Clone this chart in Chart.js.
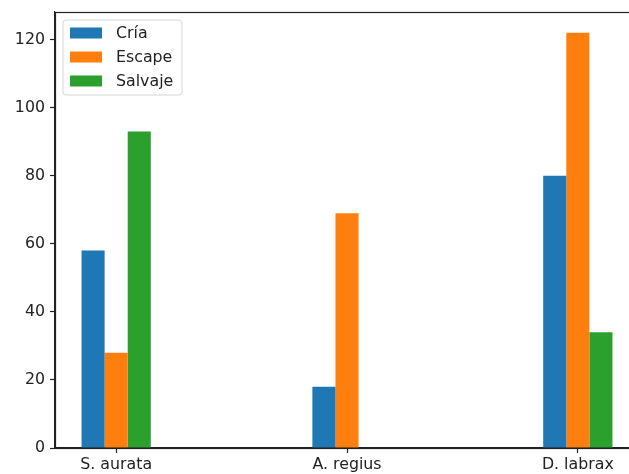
<!DOCTYPE html>
<html>
<head>
<meta charset="utf-8">
<script src="https://cdn.jsdelivr.net/npm/chart.js@4"></script>
<style>
html, body { margin: 0; padding: 0; overflow: hidden; background: #fff; }
#wrap { width: 660px; height: 474px; }
</style>
</head>
<body>
<div id="wrap"><canvas id="myChart"></canvas></div>
<script>
// data
var species = ['S. aurata', 'A. regius', 'D. labrax'];
var cria = [58, 18, 80];
var escape = [28, 69, 122];
var salvaje = [93, null, 34];
var seriesNames = ['Cría', 'Escape', 'Salvaje'];
var colors = ['#1f77b4', '#ff7f0e', '#2ca02c'];
var yTicks = [0, 20, 40, 60, 80, 100, 120];

var font = { family: 'DejaVu Sans', size: 15.8 };

function points(arr) {
    return arr.map((v, i) => ({ x: i, y: v }));
}

// frame + legend box drawn like matplotlib
var frameAndLegend = {
    id: 'frameAndLegend',
    afterDraw(chart) {
        let ctx = chart.ctx;
        let a = chart.chartArea;
        ctx.save();
        ctx.strokeStyle = '#222';
        ctx.lineWidth = 1.2;
        ctx.strokeRect(Math.round(a.left) + 0.5, Math.round(a.top) + 0.5, Math.round(a.right - a.left), Math.round(a.bottom - a.top));

        let x = a.left + 8, y = a.top + 8, w = 119, h = 75, r = 3;
        ctx.beginPath();
        ctx.moveTo(x + r, y);
        ctx.arcTo(x + w, y, x + w, y + h, r);
        ctx.arcTo(x + w, y + h, x, y + h, r);
        ctx.arcTo(x, y + h, x, y, r);
        ctx.arcTo(x, y, x + w, y, r);
        ctx.closePath();
        ctx.fillStyle = 'rgba(255,255,255,0.8)';
        ctx.fill();
        ctx.lineWidth = 1;
        ctx.strokeStyle = '#d5d5d5';
        ctx.stroke();

        ctx.font = '15.8px "DejaVu Sans"';
        ctx.textBaseline = 'middle';
        chart.data.datasets.forEach((ds, i) => {
            let cy = y + 13 + i * 24;
            ctx.fillStyle = ds.backgroundColor;
            ctx.fillRect(x + 7, cy - 5.5, 32, 11);
            ctx.fillStyle = '#222';
            ctx.fillText(ds.label, x + 53, cy + 1);
        });
        ctx.restore();
    }
};

let myChart = document.getElementById('myChart').getContext('2d');
let barChart = new Chart(myChart, {
    type: 'bar',
    data: {
        datasets: [
            { label: seriesNames[0], data: points(cria), backgroundColor: colors[0] },
            { label: seriesNames[1], data: points(escape), backgroundColor: colors[1] },
            { label: seriesNames[2], data: points(salvaje), backgroundColor: colors[2] }
        ]
    },
    options: {
        responsive: true, maintainAspectRatio: false, animation: false,
        categoryPercentage: 0.3, barPercentage: 1,
        layout: { padding: { top: 12, right: 21, left: 0, bottom: 0 } },
        plugins: { legend: { display: false }, tooltip: { enabled: false } },
        scales: {
            x: {
                type: 'linear', min: -0.265, max: 2.265, offset: false,
                afterBuildTicks: s => { s.ticks = species.map((n, i) => ({ value: i })); },
                afterFit: s => { s.height = 26; s.paddingLeft = 0; s.paddingRight = 0; },
                ticks: { callback: v => species[v], color: '#222', font: font, padding: 2, maxRotation: 0, autoSkip: false },
                grid: { drawOnChartArea: false, offset: false, tickLength: 5, tickWidth: 1.2, color: '#222' },
                border: { color: '#222', width: 1.2 }
            },
            y: {
                min: 0, max: 128.1,
                afterBuildTicks: s => { s.ticks = yTicks.map(v => ({ value: v })); },
                afterFit: s => { s.width = 55; s.paddingTop = 0; s.paddingBottom = 0; },
                ticks: { color: '#222', font: font, padding: 5 },
                grid: { drawOnChartArea: false, tickLength: 5, tickWidth: 1.2, color: '#222' },
                border: { color: '#222', width: 1.2 }
            }
        }
    },
    plugins: [frameAndLegend]
});
</script>
</body>
</html>
